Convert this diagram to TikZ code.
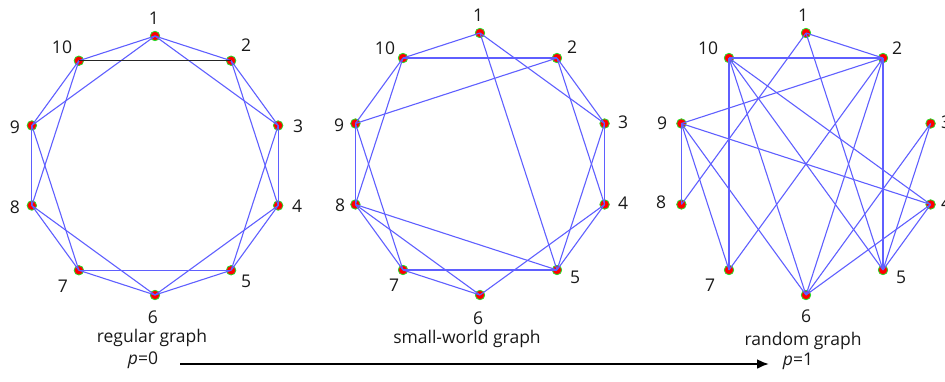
\documentclass[tikz,border=0pt]{standalone}
\usepackage{fontspec}
\setmainfont{Open Sans}
\usetikzlibrary{arrows.meta}
\definecolor{edgeblue}{RGB}{95,95,255}
\definecolor{vgreen}{RGB}{40,220,40}
\begin{document}
\begin{tikzpicture}[x=1pt,y=-1pt,
  vtx/.style={circle,fill=red,draw=vgreen,line width=0.8pt,minimum size=9.5pt,inner sep=0pt},
  edge/.style={draw=edgeblue,line width=1.1pt},
  blackedge/.style={draw=black!85,line width=0.9pt},
  lbl/.style={font=\fontsize{17.5}{20}\selectfont,inner sep=0pt,text=black!90},
  captext/.style={font=\fontsize{17.5}{20}\selectfont,inner sep=0pt,text=black!90}]
\useasboundingbox (0,0) rectangle (945,381);
% vertices
\foreach \k in {1,...,10} {
  \node[vtx] (a\k) at ({155+129.5*cos(90-36*(\k-1))},{165.5-129.5*sin(90-36*(\k-1))}) {};
  \node[vtx] (b\k) at ({480+131*cos(90-36*(\k-1))},{164-131*sin(90-36*(\k-1))}) {};
  \node[vtx] (c\k) at ({806+131*cos(90-36*(\k-1))},{164-131*sin(90-36*(\k-1))}) {};
}
% regular graph edges
\foreach \u/\v in {1/2,1/3,1/10,1/9,2/3,2/4,3/4,3/5,4/5,4/6,5/6,5/7,6/7,6/8,7/8,7/9,8/9,8/10,9/10}
  \draw[edge] (a\u.center) -- (a\v.center);
\draw[blackedge] (a10.center) -- (a2.center);
% small-world graph edges
\foreach \u/\v in {1/10,1/3,1/5,10/2,10/9,10/8,2/9,2/3,2/4,3/4,3/5,4/5,4/6,9/8,9/7,8/7,8/6,8/5,7/5,7/6}
  \draw[edge] (b\u.center) -- (b\v.center);
% random graph edges
\foreach \u/\v in {1/2,1/8,1/5,10/2,10/7,10/6,10/5,10/4,2/9,2/7,2/6,2/5,9/8,9/7,9/6,9/4,3/6,3/5,4/5,4/6}
  \draw[edge] (c\u.center) -- (c\v.center);
% labels regular
\node[lbl] (la1) at (154,18) {1};
\node[lbl] (la2) at (246,45) {2};
\node[lbl] (la3) at (298,126) {3};
\node[lbl] (la4) at (297,206) {4};
\node[lbl] (la5) at (246,281) {5};
\node[lbl] (la6) at (153,317) {6};
\node[lbl] (la7) at (63,286) {7};
\node[lbl] (la8) at (15,207) {8};
\node[lbl] (la9) at (15,127) {9};
\node[lbl] (la10) at (62,47) {10};
% labels small-world
\node[lbl] (lb1) at (478,15) {1};
\node[lbl] (lb2) at (572,47) {2};
\node[lbl] (lb3) at (623,122) {3};
\node[lbl] (lb4) at (623,203) {4};
\node[lbl] (lb5) at (575,277) {5};
\node[lbl] (lb6) at (478,318) {6};
\node[lbl] (lb7) at (394,285) {7};
\node[lbl] (lb8) at (340,205) {8};
\node[lbl] (lb9) at (339,125) {9};
\node[lbl] (lb10) at (385,48) {10};
% labels random
\node[lbl] (lc1) at (803,15) {1};
\node[lbl] (lc2) at (897,48) {2};
\node[lbl] (lc3) at (946,122) {3};
\node[lbl] (lc4) at (946,203) {4};
\node[lbl] (lc5) at (901,277) {5};
\node[lbl] (lc6) at (806,316) {6};
\node[lbl] (lc7) at (710,285) {7};
\node[lbl] (lc8) at (661,202) {8};
\node[lbl] (lc9) at (662,123) {9};
\node[lbl] (lc10) at (708,48) {10};
% captions
\node[captext] (capa) at (152,338) {regular graph};
\node[captext] (capb) at (467,339) {small-world graph};
\node[captext] (capc) at (803,341) {random graph};
\node[captext] (p0) at (143,360) {\textit{p}=0};
\node[captext] (p1) at (798,361) {\textit{p}=1};
\coordinate (arrS) at (180,364);
\coordinate (arrE) at (769,364);
\draw[line width=2.3pt,-{Latex[length=12pt,width=10pt]}] (arrS) -- (arrE);
\end{tikzpicture}
\end{document}
